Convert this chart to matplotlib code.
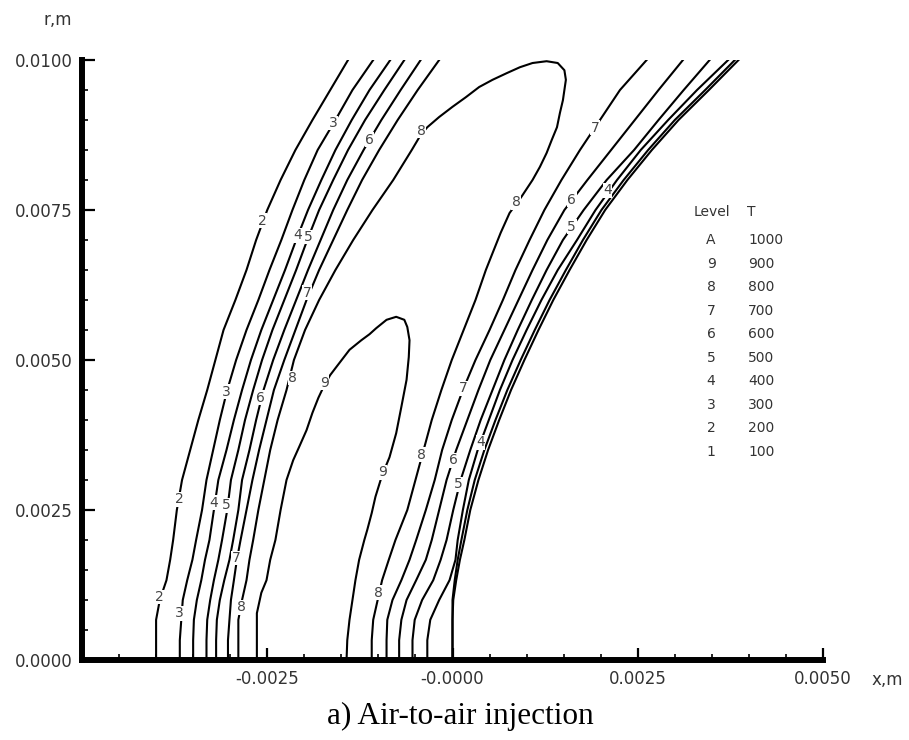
import numpy as np
import matplotlib
matplotlib.use("Agg")
from matplotlib import pyplot as plt
from matplotlib.ticker import MultipleLocator

# radial stations (mm) shared by the open isotherms
r_grid = [0, 0.33, 0.67, 1.0, 1.33, 1.67, 2.0, 2.5, 3.0, 3.5, 4.0, 4.5,
          5.0, 5.5, 6.0, 6.5, 7.0, 7.5, 8.0, 8.5, 9.0, 9.5, 10.0]

# axial position (mm) of each isotherm at the r_grid stations
left_2 = [-4.00, -4.00, -4.00, -3.95, -3.86, -3.81, -3.77, -3.72, -3.65, -3.54, -3.43, -3.31,
          -3.20, -3.09, -2.93, -2.78, -2.65, -2.50, -2.32, -2.12, -1.89, -1.65, -1.41]
left_3 = [-3.68, -3.68, -3.66, -3.64, -3.58, -3.51, -3.46, -3.38, -3.32, -3.23, -3.14, -3.04,
          -2.92, -2.78, -2.62, -2.47, -2.31, -2.16, -2.00, -1.82, -1.58, -1.35, -1.07]
left_4 = [-3.50, -3.50, -3.49, -3.45, -3.39, -3.34, -3.28, -3.22, -3.16, -3.05, -2.95, -2.84,
          -2.72, -2.58, -2.42, -2.26, -2.11, -1.95, -1.77, -1.58, -1.36, -1.12, -0.84]
left_5 = [-3.32, -3.32, -3.31, -3.27, -3.22, -3.16, -3.11, -3.04, -2.99, -2.89, -2.80, -2.69,
          -2.57, -2.43, -2.27, -2.11, -1.96, -1.80, -1.61, -1.41, -1.18, -0.92, -0.65]
left_6 = [-3.19, -3.19, -3.18, -3.14, -3.08, -3.01, -2.96, -2.89, -2.84, -2.74, -2.65, -2.55,
          -2.42, -2.27, -2.11, -1.95, -1.78, -1.61, -1.42, -1.20, -0.96, -0.70, -0.43]
left_7 = [-3.03, -3.03, -3.01, -2.99, -2.95, -2.91, -2.86, -2.78, -2.70, -2.61, -2.51, -2.41,
          -2.27, -2.12, -1.97, -1.80, -1.61, -1.42, -1.22, -0.99, -0.74, -0.47, -0.18]
right_7 = [-0.89, -0.89, -0.88, -0.81, -0.69, -0.58, -0.49, -0.36, -0.24, -0.14, -0.01, 0.14,
           0.31, 0.50, 0.68, 0.85, 1.04, 1.24, 1.47, 1.72, 1.99, 2.26, 2.62]
right_6 = [-0.72, -0.72, -0.69, -0.62, -0.49, -0.36, -0.28, -0.18, -0.08, 0.05, 0.20, 0.35,
           0.51, 0.70, 0.89, 1.08, 1.28, 1.51, 1.82, 2.14, 2.46, 2.78, 3.11]
right_5 = [-0.54, -0.54, -0.51, -0.41, -0.26, -0.16, -0.08, 0.01, 0.11, 0.24, 0.38, 0.54,
           0.70, 0.88, 1.07, 1.27, 1.49, 1.77, 2.08, 2.45, 2.78, 3.12, 3.47]
right_4 = [-0.34, -0.34, -0.30, -0.18, -0.04, 0.04, 0.07, 0.14, 0.22, 0.34, 0.49, 0.64,
           0.81, 1.00, 1.20, 1.42, 1.68, 1.93, 2.22, 2.54, 2.91, 3.30, 3.72]
right_3 = [0.00, 0.00, 0.00, 0.00, 0.03, 0.07, 0.12, 0.20, 0.30, 0.43, 0.58, 0.74,
           0.92, 1.11, 1.31, 1.53, 1.76, 2.01, 2.31, 2.64, 3.00, 3.41, 3.81]
right_2 = [0.00, 0.00, 0.00, 0.01, 0.05, 0.10, 0.16, 0.24, 0.35, 0.48, 0.63, 0.79,
           0.97, 1.16, 1.36, 1.58, 1.81, 2.06, 2.36, 2.69, 3.05, 3.46, 3.86]

# closed-top isotherms 8 and 9 (x, r in mm)
line8_x = [-2.89, -2.89, -2.89, -2.84, -2.78, -2.74, -2.69, -2.62, -2.54, -2.46, -2.36,
           -2.24, -2.14, -1.99, -1.80, -1.58, -1.34, -1.08, -0.80, -0.55, -0.43, -0.34,
           -0.18, 0.00, 0.18, 0.36, 0.54, 0.73, 0.91, 1.08, 1.27, 1.42, 1.51, 1.53, 1.51,
           1.49, 1.45, 1.41, 1.34, 1.27, 1.18, 1.08, 0.93, 0.77, 0.65, 0.54, 0.45, 0.31,
           0.15, -0.01, -0.15, -0.28, -0.39, -0.50, -0.61, -0.77, -0.86, -0.95, -1.01,
           -1.07, -1.09, -1.09]
line8_r = [0, 0.33, 0.67, 1.0, 1.33, 1.67, 2.0, 2.5, 3.0, 3.5, 4.0, 4.5, 5.0, 5.5, 6.0,
           6.5, 7.0, 7.5, 8.0, 8.5, 8.75, 8.88, 9.05, 9.22, 9.38, 9.55, 9.67, 9.78, 9.88,
           9.95, 9.98, 9.95, 9.83, 9.67, 9.5, 9.33, 9.12, 8.88, 8.67, 8.45, 8.22, 8.0,
           7.72, 7.45, 7.12, 6.78, 6.5, 6.0, 5.5, 5.0, 4.5, 4.0, 3.5, 3.0, 2.5, 2.0, 1.67,
           1.33, 1.0, 0.67, 0.33, 0]
line9_x = [-2.64, -2.64, -2.64, -2.58, -2.51, -2.46, -2.39, -2.32, -2.24, -2.15, -2.07,
           -1.97, -1.89, -1.81, -1.73, -1.65, -1.57, -1.39, -1.23, -1.12, -1.03, -0.89,
           -0.76, -0.65, -0.61, -0.58, -0.59, -0.62, -0.69, -0.76, -0.85, -0.95, -1.04,
           -1.09, -1.15, -1.19, -1.26, -1.31, -1.35, -1.39, -1.42, -1.43]
line9_r = [0, 0.33, 0.78, 1.12, 1.33, 1.67, 2.0, 2.5, 3.0, 3.33, 3.55, 3.83, 4.12, 4.37,
           4.58, 4.75, 4.88, 5.17, 5.33, 5.43, 5.53, 5.67, 5.72, 5.67, 5.55, 5.33, 5.05,
           4.67, 4.22, 3.78, 3.38, 3.08, 2.72, 2.45, 2.17, 2.0, 1.67, 1.33, 1.0, 0.67,
           0.33, 0]

# contour labels (level, x mm, r mm)
label_txt = ["2", "4", "5", "3", "6", "8", "7", "3", "6", "8", "9", "2", "4", "5", "7",
             "2", "3", "8", "7", "8", "6", "5", "4", "7", "8", "6", "5", "4", "9", "8"]
label_x = [-2.57, -2.09, -1.95, -1.61, -1.12, -0.42, -1.96, -3.05, -2.59, -2.16, -1.73,
           -3.69, -3.22, -3.05, -2.92, -3.95, -3.68, -2.85, 1.92, 0.86, 1.61, 1.61, 2.09,
           0.14, -0.42, 0.01, 0.08, 0.38, -0.95, -1.00]
label_r = [7.32, 7.08, 7.05, 8.95, 8.67, 8.82, 6.12, 4.47, 4.37, 4.70, 4.62, 2.68, 2.62,
           2.58, 1.70, 1.05, 0.78, 0.88, 8.87, 7.63, 7.67, 7.22, 7.83, 4.53, 3.42, 3.33,
           2.93, 3.63, 3.13, 1.12]

# level table
levels = ["A", "9", "8", "7", "6", "5", "4", "3", "2", "1"]
temps = [1000, 900, 800, 700, 600, 500, 400, 300, 200, 100]

mm = 1e-3
fig = plt.figure(figsize=(9.09, 7.40), dpi=100)
ax = fig.add_axes([0.0902, 0.1081, 0.8152, 0.8108])

r = np.array(r_grid) * mm
for xs in [left_2, left_3, left_4, left_5, left_6, left_7,
           right_7, right_6, right_5, right_4, right_3, right_2]:
    ax.plot(np.array(xs) * mm, r, color="black", lw=1.5)
ax.plot(np.array(line8_x) * mm, np.array(line8_r) * mm, color="black", lw=1.5)
ax.plot(np.array(line9_x) * mm, np.array(line9_r) * mm, color="black", lw=1.5)

for t, x, y in zip(label_txt, label_x, label_r):
    ax.text(x * mm, y * mm, t, fontsize=10, color="#444444", ha="center", va="center",
            bbox=dict(fc="white", ec="none", pad=0.3), zorder=5)

ax.set_xlim(-0.005, 0.005)
ax.set_ylim(0, 0.01)
ax.set_xticks([-0.005, -0.0025, 0, 0.0025, 0.005])
ax.set_xticklabels(["", "-0.0025", "-0.0000", "0.0025", "0.0050"])
ax.set_yticks([0, 0.0025, 0.005, 0.0075, 0.01])
ax.set_yticklabels(["0.0000", "0.0025", "0.0050", "0.0075", "0.0100"])
ax.xaxis.set_minor_locator(MultipleLocator(0.0005))
ax.yaxis.set_minor_locator(MultipleLocator(0.0005))
ax.tick_params(which="major", direction="in", length=9, width=1.6,
               labelsize=12, labelcolor="#333333", pad=7)
ax.tick_params(which="minor", direction="in", length=4.5, width=1.2)

for s in ["top", "right"]:
    ax.spines[s].set_visible(False)
for s in ["left", "bottom"]:
    ax.spines[s].set_linewidth(4.3)

# level / temperature table
ax.text(0.826, 0.747, "Level", transform=ax.transAxes, fontsize=10, color="#333333",
        va="center")
ax.text(0.897, 0.747, "T", transform=ax.transAxes, fontsize=10, color="#333333",
        va="center")
for i, (lv, t) in enumerate(zip(levels, temps)):
    y = 0.700 - i * 0.0392
    ax.text(0.849, y, lv, transform=ax.transAxes, fontsize=10, color="#333333",
            ha="center", va="center")
    ax.text(0.899, y, str(t), transform=ax.transAxes, fontsize=10, color="#333333",
            va="center")

fig.text(0.0638, 0.973, "r,m", fontsize=12, color="#333333", ha="center", va="center")
fig.text(0.9758, 0.0811, "x,m", fontsize=12, color="#333333", ha="center", va="center")
fig.text(0.506, 1 - 724 / 740, "a) Air-to-air injection", fontsize=22.5,
         family="Liberation Serif", ha="center", va="baseline")

fig.savefig("out.png", dpi=100)
